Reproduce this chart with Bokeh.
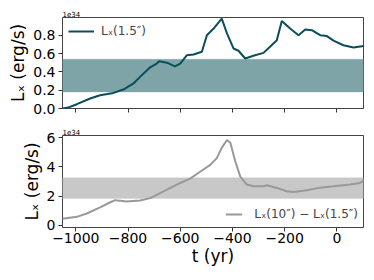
from bokeh.plotting import figure
from bokeh.layouts import column
from bokeh.models import FixedTicker, PrintfTickFormatter, CustomJSTickFormatter, BoxAnnotation, Legend, LegendItem
from bokeh.embed import file_html
from bokeh.resources import INLINE

# Data (units of 1e34 erg/s)
t_top = [-1051, -1030, -996, -945, -907, -856, -818, -779, -754, -715, -690, -681, -651, -620, -600,
         -575, -549, -517, -498, -473, -441, -421, -396, -377, -351, -320, -281, -256, -230, -211,
         -179, -147, -121, -96, -64, -38, -13, 25, 64, 102]
lx_top = [0.0, 0.01, 0.047, 0.109, 0.145, 0.17, 0.207, 0.273, 0.345, 0.45, 0.49, 0.515, 0.50, 0.46, 0.49,
          0.58, 0.59, 0.62, 0.80, 0.87, 0.98, 0.82, 0.655, 0.63, 0.546, 0.575, 0.607, 0.673, 0.745, 0.956,
          0.873, 0.80, 0.862, 0.855, 0.80, 0.79, 0.74, 0.69, 0.666, 0.683]
band_top = (0.18, 0.538)

t_bot = [-1051, -996, -958, -907, -868, -849, -805, -754, -715, -664, -600, -562, -524, -485, -460,
         -441, -421, -408, -389, -370, -345, -320, -281, -268, -230, -192, -166, -115, -64, -13, 51, 89, 102]
lx_bot = [0.45, 0.58, 0.81, 1.23, 1.58, 1.72, 1.63, 1.70, 1.86, 2.33, 2.9, 3.2, 3.67, 4.14, 4.6,
          5.3, 5.84, 5.65, 4.37, 3.33, 2.79, 2.67, 2.67, 2.74, 2.56, 2.33, 2.28, 2.4, 2.58, 2.67, 2.79, 2.9, 3.05]
band_bot = (1.83, 3.26)

x_ticks = [-1000, -800, -600, -400, -200, 0]
top_yticks = [0.0, 0.2, 0.4, 0.6, 0.8]
bot_yticks = [0, 2, 4, 6]

TEAL = "#0b4d58"
TEAL_BAND = "#7fa4a8"
GRAY = "#999999"
GRAY_BAND = "#c8c8c8"
FONT = "DejaVu Sans"


def style(p):
    p.outline_line_color = "#444444"
    p.outline_line_width = 1
    p.xgrid.visible = False
    p.ygrid.visible = False
    for ax in (p.xaxis[0], p.yaxis[0]):
        ax.axis_line_color = None
        ax.major_tick_out = 4
        ax.major_tick_in = 0
        ax.major_tick_line_color = "#333333"
        ax.minor_tick_out = 0
        ax.minor_tick_in = 0
        ax.major_label_text_font = FONT
        ax.major_label_text_font_size = "14px"
        ax.major_label_text_color = "black"
        ax.axis_label_text_font = FONT
        ax.axis_label_text_font_size = "17px"
        ax.axis_label_text_font_style = "normal"
        ax.axis_label_text_color = "black"
    p.yaxis.major_label_standoff = 3
    p.yaxis.axis_label_standoff = 2
    p.xaxis.major_label_standoff = 1
    p.xaxis.axis_label_standoff = 0
    p.xaxis.ticker = FixedTicker(ticks=x_ticks)
    p.title.text = "1e34"
    p.title.text_font = FONT
    p.title.text_font_size = "7px"
    p.title.text_font_style = "normal"
    p.title.text_color = "black"
    p.title.align = "left"
    p.title.standoff = 1
    p.title.offset = 0


p1 = figure(width=366, height=121, x_range=(-1051, 102), y_range=(0.0, 0.993),
            output_backend="svg", toolbar_location=None,
            min_border_left=62, min_border_right=3, min_border_top=17, min_border_bottom=13)
style(p1)
p1.xaxis.formatter = CustomJSTickFormatter(code="return ''")
p1.yaxis.ticker = FixedTicker(ticks=top_yticks)
p1.yaxis.formatter = PrintfTickFormatter(format="%.1f")
p1.yaxis.axis_label = "Lₓ (erg/s)"
p1.add_layout(BoxAnnotation(bottom=band_top[0], top=band_top[1], fill_color=TEAL_BAND, fill_alpha=1,
                            line_color=TEAL_BAND, level="underlay"))
r1 = p1.line(t_top, lx_top, line_color=TEAL, line_width=2)
leg1 = Legend(items=[LegendItem(label="Lₓ(1.5″)", renderers=[r1])], location="top_left",
              label_text_font=FONT, label_text_font_size="12px", border_line_color=None,
              background_fill_alpha=0.8, glyph_width=26, glyph_height=16, label_height=16,
              label_standoff=7, margin=6, padding=5, spacing=0)
p1.add_layout(leg1)

p2 = figure(width=366, height=151, x_range=(-1051, 102), y_range=(-0.15, 6.15),
            output_backend="svg", toolbar_location=None,
            min_border_left=62, min_border_right=3, min_border_top=14, min_border_bottom=45)
style(p2)
p2.yaxis.ticker = FixedTicker(ticks=bot_yticks)
p2.xaxis.axis_label = "t (yr)"
p2.yaxis.axis_label = "Lₓ (erg/s)"
p2.add_layout(BoxAnnotation(bottom=band_bot[0], top=band_bot[1], fill_color=GRAY_BAND, fill_alpha=1,
                            line_color=GRAY_BAND, level="underlay"))
r2 = p2.line(t_bot, lx_bot, line_color=GRAY, line_width=2)
leg2 = Legend(items=[LegendItem(label="Lₓ(10″) − Lₓ(1.5″)", renderers=[r2])], location="bottom_right",
              label_text_font=FONT, label_text_font_size="12px", border_line_color=None,
              background_fill_alpha=0.8, glyph_width=17, glyph_height=16, label_height=16,
              label_standoff=12, margin=5, padding=4, spacing=0)
p2.add_layout(leg2)

layout = column(p1, p2, spacing=0)
open("out.html", "w").write(file_html(layout, INLINE))
